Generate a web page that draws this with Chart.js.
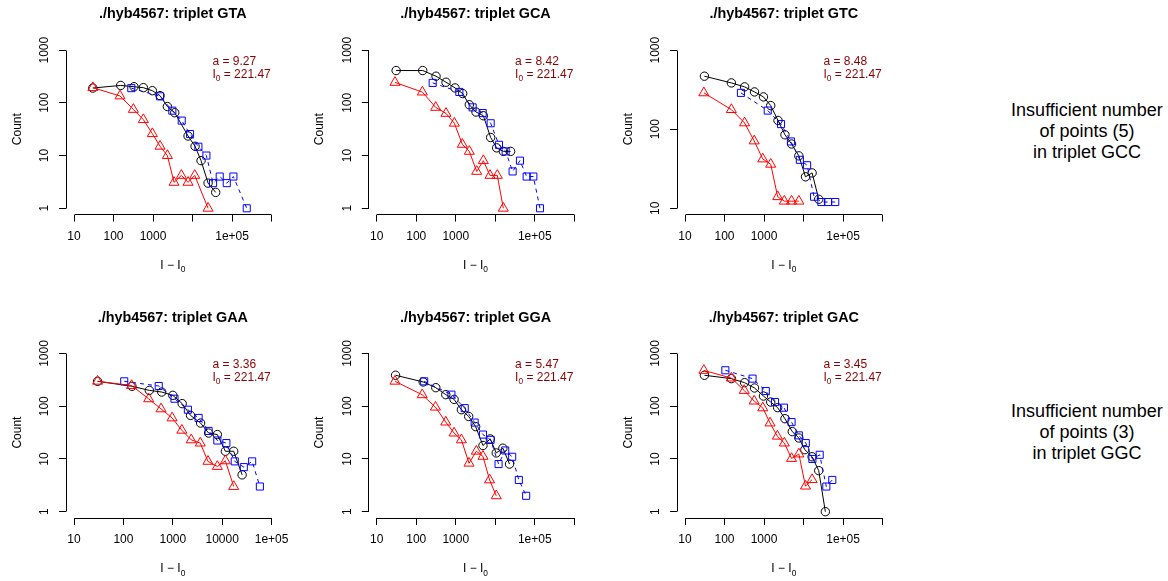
<!DOCTYPE html>
<html>
<head>
<meta charset="utf-8">
<title>hyb4567 triplets</title>
<script src="https://cdn.jsdelivr.net/npm/chart.js@4.4.1/dist/chart.umd.min.js"></script>
<style>
  html, body { margin: 0; padding: 0; background: #fff; overflow: hidden; }
  body { width: 1168px; height: 581px; position: relative; }
  canvas { position: absolute; }
  .skipped {
    position: absolute; width: 220px; text-align: center;
    font: 18px/21px "Liberation Sans", Arial, Helvetica, sans-serif; color: #000;
  }
</style>
</head>
<body>
<script>
const FONT = '"Liberation Sans", Arial, Helvetica, sans-serif';

// Fit results per triplet
const run = './hyb4567';
const triplets = ['GTA', 'GCA', 'GTC', 'GAA', 'GGA', 'GAC'];
const aFit = [9.27, 8.42, 8.48, 3.36, 5.47, 3.45];
const i0 = 221.47;

// Triplets left out of the grid
const skippedTriplets = ['GCC', 'GGC'];
const skippedPoints = [5, 3];

// Tick values and labels (R drops labels that would overlap)
const xTicks5 = [10, 100, 1000, 1e4, 1e5, 1e6];
const xLabels5 = ['10', '100', '1000', '', '1e+05', ''];
const xTicks4 = [10, 100, 1000, 1e4, 1e5];
const xLabels4 = ['10', '100', '1000', '10000', '1e+05'];
const yTicks3 = [1, 10, 100, 1000];
const yLabels3 = ['1', '10', '100', '1000'];
const yTicks2 = [10, 100, 1000];
const yLabels2 = ['10', '100', '1000'];

// [I - I0, count]
const gtaCircles = [[30, 191], [152, 214], [330, 202], [569, 194], [961, 170], [1503, 137], [2306, 85], [3540, 65], [7700, 23.5], [11570, 15], [16400, 8], [24700, 3], [38500, 2]];
const gtaSquares = [[282, 190], [1503, 133], [3080, 71], [5320, 46], [8650, 25.6], [14060, 14.7], [22400, 10], [33000, 3], [48700, 4], [73300, 3], [108000, 4], [235000, 1]];
const gtaTriangles = [[30, 194], [146, 135], [318, 75], [569, 48], [961, 26], [1503, 15], [2306, 10], [3400, 3.1], [5210, 4.2], [7700, 3.1], [11350, 4.2], [24700, 1]];

const gcaCircles = [[31, 410], [146, 410], [317, 320], [567, 246], [958, 192], [1497, 150], [2207, 92], [3257, 67], [4990, 57], [7650, 22], [10850, 14], [16000, 12], [24500, 12]];
const gcaSquares = [[261, 239], [1233, 161], [2680, 82], [4800, 64], [7650, 41], [12400, 16], [18300, 12], [27500, 5], [42200, 8], [62300, 4], [91900, 4], [135500, 1]];
const gcaTriangles = [[29, 244], [143, 160], [311, 82], [567, 63], [923, 41], [1468, 16.3], [2207, 12], [3390, 5], [4990, 8], [7360, 4.2], [11270, 4.2], [16000, 1]];

const gtcCircles = [[31, 468], [149, 385], [322, 343], [574, 296], [967, 256], [1476, 199], [2255, 129], [3380, 85], [4970, 65], [7600, 46], [11190, 25], [16450, 28], [24200, 13]];
const gtcSquares = [[260, 288], [1242, 172], [2690, 116], [4790, 70], [8060, 41], [12300, 35], [18450, 14], [28200, 12], [41500, 12], [63400, 12]];
const gtcTriangles = [[30, 288], [149, 177], [322, 120], [563, 71], [929, 42], [1476, 36], [2214, 14], [3260, 12.3], [4970, 12.3], [7600, 12.3]];

const gaaCircles = [[30, 297], [149, 239], [335, 200], [597, 186], [1000, 161], [1549, 112], [2287, 67], [3650, 48], [5310, 31], [7970, 29], [11600, 14], [17100, 14], [25300, 5]];
const gaaSquares = [[104, 297], [519, 242], [1082, 139], [2020, 86], [3330, 60], [5310, 34], [7970, 22.4], [12150, 20], [17950, 9], [27400, 7], [40400, 9], [57900, 3]];
const gaaTriangles = [[30, 298], [146, 247], [325, 138], [579, 89], [968, 60], [1524, 35], [2360, 23], [3600, 20], [5150, 9], [7970, 7.2], [11600, 9.2], [17100, 3]];

const ggaCircles = [[30, 387], [150, 289], [313, 225], [560, 166], [908, 135], [1390, 86], [2128, 64], [3192, 41], [4890, 18], [7480, 24], [10600, 13], [15600, 16], [22970, 8]];
const ggaSquares = [[159, 297], [778, 166], [1687, 92], [3015, 49], [4890, 29], [7620, 23], [12130, 8], [17870, 14.5], [26800, 11], [39500, 4], [60500, 2]];
const ggaTriangles = [[29, 298], [142, 165], [307, 96], [560, 50], [908, 31], [1390, 23], [2168, 8.3], [3320, 14], [4890, 11.2], [7190, 4], [10600, 2]];

const gacCircles = [[31, 387], [149, 334], [322, 280], [574, 222], [967, 156], [1476, 120], [2214, 94], [3380, 58], [5180, 33], [7600, 25], [10770, 15], [16450, 11], [24200, 6], [35600, 1]];
const gacSquares = [[105, 481], [512, 334], [1108, 194], [1898, 120], [3193, 94], [4970, 50], [7600, 28], [11400, 20], [16750, 10], [25600, 12], [37700, 3], [53300, 4]];
const gacTriangles = [[30, 478], [149, 342], [316, 199], [563, 125], [929, 93], [1419, 48], [2174, 27], [3260, 20], [4970, 10.2], [7600, 12.4], [11200, 3.05], [16450, 4.05]];

const panels = [
  { circles: gtaCircles, squares: gtaSquares, triangles: gtaTriangles, xt: xTicks5, xl: xLabels5, yt: yTicks3, yl: yLabels3 },
  { circles: gcaCircles, squares: gcaSquares, triangles: gcaTriangles, xt: xTicks5, xl: xLabels5, yt: yTicks3, yl: yLabels3 },
  { circles: gtcCircles, squares: gtcSquares, triangles: gtcTriangles, xt: xTicks5, xl: xLabels5, yt: yTicks2, yl: yLabels2 },
  { circles: gaaCircles, squares: gaaSquares, triangles: gaaTriangles, xt: xTicks4, xl: xLabels4, yt: yTicks3, yl: yLabels3 },
  { circles: ggaCircles, squares: ggaSquares, triangles: ggaTriangles, xt: xTicks5, xl: xLabels5, yt: yTicks3, yl: yLabels3 },
  { circles: gacCircles, squares: gacSquares, triangles: gacTriangles, xt: xTicks5, xl: xLabels5, yt: yTicks3, yl: yLabels3 }
];

// plot regions on the page
const colLeft = [66.1, 368.8, 677.1];
const rowTop = [43.8, 347.2];
const areaW = 213.4, areaH = 170.8;
const canvasW = 300, canvasH = 280;
const xAxisH = 40;   // room kept under the plot for the x tick labels
const titleGap = 29.3; // from title middle down to the plot region

// base R pads log axes by 4% of the range on both ends
function rRange(ticks) {
  const lo = Math.log10(ticks[0]);
  const hi = Math.log10(ticks[ticks.length - 1]);
  const pad = (hi - lo) * 0.04;
  return [Math.pow(10, lo - pad), Math.pow(10, hi + pad)];
}

const align = p => Math.round(p - 0.5) + 0.5;

// axis lines between the outer ticks, rotated y labels, axis titles, fit note
const baseR = {
  id: 'baseR',
  afterDraw(chart, args, opts) {
    const { ctx, chartArea: area, scales: { x, y } } = chart;
    const xPix = x.ticks.map(t => x.getPixelForValue(t.value));
    const yPix = y.ticks.map(t => y.getPixelForValue(t.value));
    ctx.save();
    ctx.strokeStyle = '#000';
    ctx.lineWidth = 1;
    ctx.beginPath();
    ctx.moveTo(align(Math.min(...xPix)), align(area.bottom));
    ctx.lineTo(align(Math.max(...xPix)), align(area.bottom));
    ctx.moveTo(align(area.left), align(Math.min(...yPix)));
    ctx.lineTo(align(area.left), align(Math.max(...yPix)));
    ctx.stroke();

    ctx.fillStyle = '#000';
    ctx.font = '12px ' + FONT;
    ctx.textAlign = 'center';
    ctx.textBaseline = 'alphabetic';
    y.ticks.forEach((t, i) => {
      ctx.save();
      ctx.translate(area.left - 17.7, yPix[i]);
      ctx.rotate(-Math.PI / 2);
      ctx.fillText(t.label, 0, 0);
      ctx.restore();
    });

    // y title
    ctx.save();
    ctx.translate(area.left - 45.5, (area.top + area.bottom) / 2);
    ctx.rotate(-Math.PI / 2);
    ctx.fillText('Count', 0, 0);
    ctx.restore();

    // x title: I - I[0]
    const small = '8.4px ' + FONT;
    const main = 'I \u2212 I';
    const wMain = ctx.measureText(main).width;
    ctx.font = small;
    const wSub = ctx.measureText('0').width;
    const cx = (area.left + area.right) / 2 - (wMain + wSub) / 2;
    const by = area.bottom + 54.3;
    ctx.textAlign = 'left';
    ctx.font = '12px ' + FONT;
    ctx.fillText(main, cx, by);
    ctx.font = small;
    ctx.fillText('0', cx + wMain, by + 3.2);

    // fitted parameters
    const nx = area.left + 146.3;
    const ny = area.top + 20.8;
    ctx.fillStyle = '#8B0000';
    ctx.font = '12px ' + FONT;
    ctx.fillText('a = ' + opts.a.toFixed(2), nx, ny);
    const ny2 = ny + 13;
    ctx.fillText('I', nx, ny2);
    const wI = ctx.measureText('I').width;
    ctx.font = small;
    ctx.fillText('0', nx + wI, ny2 + 3.2);
    const w0 = ctx.measureText('0').width;
    ctx.font = '12px ' + FONT;
    ctx.fillText(' = ' + opts.i0.toFixed(2), nx + wI + w0, ny2);
    ctx.restore();
  }
};

Chart.defaults.font.family = FONT;
Chart.defaults.font.size = 12;
Chart.defaults.color = '#000';

function series(points, color, style, radius, dash) {
  return {
    data: points.map(([x, y]) => ({ x, y })),
    borderColor: color,
    borderWidth: 1,
    borderDash: dash,
    pointStyle: style,
    pointRadius: radius,
    pointBorderColor: color,
    pointBackgroundColor: 'rgba(0,0,0,0)',
    pointBorderWidth: 1,
    tension: 0,
    clip: false
  };
}

panels.forEach((p, i) => {
  const col = i % 3, row = Math.floor(i / 3);
  const left = Math.floor(colLeft[col] - 66);
  const top = Math.floor(rowTop[row] - 44);
  const padL = colLeft[col] - left;
  const titleBox = rowTop[row] - top;

  const cv = document.createElement('canvas');
  cv.width = canvasW;
  cv.height = canvasH;
  cv.style.left = left + 'px';
  cv.style.top = top + 'px';
  document.body.appendChild(cv);

  const [xMin, xMax] = rRange(p.xt);
  const [yMin, yMax] = rRange(p.yt);

  new Chart(cv, {
    type: 'line',
    data: {
      datasets: [
        series(p.triangles, '#FF0000', 'triangle', 5.8, []),
        series(p.squares, '#0000FF', 'rect', 5, [4, 4]),
        series(p.circles, '#000000', 'circle', 4.2, [])
      ]
    },
    options: {
      responsive: false,
      animation: false,
      events: [],
      layout: {
        padding: {
          left: padL,
          right: canvasW - padL - areaW,
          top: 0,
          bottom: canvasH - titleBox - areaH - xAxisH
        }
      },
      plugins: {
        legend: { display: false },
        tooltip: { enabled: false },
        title: {
          display: true,
          text: run + ': triplet ' + triplets[i],
          font: { size: 14.4, weight: 'bold', family: FONT },
          color: '#000',
          padding: { top: titleBox - titleGap - 8.64, bottom: titleGap - 8.64 }
        },
        baseR: { a: aFit[i], i0: i0 }
      },
      scales: {
        x: {
          type: 'logarithmic',
          min: xMin,
          max: xMax,
          afterBuildTicks: s => { s.ticks = p.xt.map(v => ({ value: v })); },
          afterFit: s => { s.height = xAxisH; },
          ticks: {
            autoSkip: false,
            maxRotation: 0,
            minRotation: 0,
            padding: 7.8,
            callback: (v, idx) => p.xl[idx]
          },
          grid: { display: true, drawOnChartArea: false, drawTicks: true, tickLength: 7, color: '#000', lineWidth: 1 },
          border: { display: false }
        },
        y: {
          type: 'logarithmic',
          min: yMin,
          max: yMax,
          afterBuildTicks: s => { s.ticks = p.yt.map(v => ({ value: v })); },
          afterFit: s => { s.width = 0; },
          ticks: { display: false, callback: (v, idx) => p.yl[idx] },
          grid: { display: true, drawOnChartArea: false, drawTicks: true, tickLength: 7, color: '#000', lineWidth: 1 },
          border: { display: false }
        }
      }
    },
    plugins: [baseR]
  });
});

// notes for the triplets without a fit
const noteTop = [99.5, 401];
skippedTriplets.forEach((t, i) => {
  const div = document.createElement('div');
  div.className = 'skipped';
  div.style.left = '977px';
  div.style.top = noteTop[i] + 'px';
  div.innerHTML = 'Insufficient number<br>of points (' + skippedPoints[i] + ')<br>in triplet ' + t;
  document.body.appendChild(div);
});
</script>
</body>
</html>
